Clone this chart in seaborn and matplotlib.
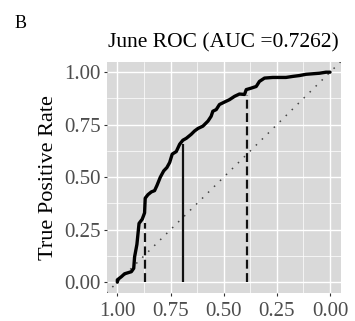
import matplotlib
matplotlib.use("Agg")
import matplotlib.pyplot as plt
import numpy as np
import pandas as pd
import seaborn as sns

# ROC curve (specificity on reversed x axis, sensitivity on y)
specificity = [1.0, 1.0, 0.98, 0.966, 0.934, 0.923, 0.919, 0.908, 0.898, 0.883,
               0.872, 0.869, 0.856, 0.84, 0.825, 0.814, 0.798, 0.782, 0.767,
               0.754, 0.742, 0.723, 0.707, 0.692, 0.676, 0.653, 0.637, 0.621,
               0.598, 0.574, 0.559, 0.551, 0.535, 0.52, 0.496, 0.473, 0.449,
               0.426, 0.402, 0.394, 0.371, 0.347, 0.332, 0.308, 0.269, 0.207,
               0.175, 0.144, 0.113, 0.05, 0.019, 0.0]
sensitivity = [0.0, 0.011, 0.027, 0.04, 0.05, 0.066, 0.12, 0.18, 0.28, 0.30,
               0.33, 0.40, 0.417, 0.43, 0.436, 0.46, 0.50, 0.53, 0.546,
               0.57, 0.61, 0.622, 0.657, 0.676, 0.685, 0.704, 0.72, 0.732,
               0.743, 0.767, 0.79, 0.814, 0.822, 0.846, 0.858, 0.869, 0.885,
               0.896, 0.894, 0.917, 0.924, 0.932, 0.956, 0.972, 0.975, 0.975,
               0.98, 0.984, 0.99, 0.995, 1.0, 1.0]

cut_spec = [0.872, 0.689, 0.391]
cut_sens = [0.28, 0.66, 0.893]
cut_style = ["dashed", "solid", "dashed"]

title = "June ROC (AUC =0.7262)"
panel_label = "B"
y_label = "True Positive Rate"
tick_values = [1.00, 0.75, 0.50, 0.25, 0.00]
tick_labels = ["1.00", "0.75", "0.50", "0.25", "0.00"]

sns.set_theme(style="darkgrid")
plt.rcParams['font.family'] = ['Liberation Serif', 'DejaVu Serif']

fig = plt.figure(figsize=(3.55, 3.21), dpi=100)
ax = fig.add_axes([0.3006, 0.0882, 0.659, 0.7196])
ax.set_facecolor('#D9D9D9')

df = pd.DataFrame({"spec": specificity, "sens": sensitivity})

ax.set_xlim(1.05, -0.05)
ax.set_ylim(-0.05, 1.05)
ax.set_xticks(tick_values)
ax.set_xticklabels(tick_labels)
ax.set_yticks(tick_values[::-1])
ax.set_yticklabels(tick_labels[::-1])
minor = [0.875, 0.625, 0.375, 0.125]
ax.set_xticks(minor, minor=True)
ax.set_yticks(minor, minor=True)
ax.grid(which='major', color='white', linewidth=1.0)
ax.grid(which='minor', color='white', linewidth=0.5)
ax.set_axisbelow(True)
for s in ax.spines.values():
    s.set_visible(False)
ax.tick_params(which='major', length=2.5, width=0.8, color='#333333',
               labelcolor='#4D4D4D', labelsize=15, pad=2,
               bottom=True, left=True)
ax.tick_params(axis='x', which='major', pad=4)
ax.tick_params(which='minor', length=0)

ax.axline((1, 0), (0, 1), color='#444444', linewidth=1.1,
          linestyle=(0, (1, 4.5)))

for s, t, ls in zip(cut_spec, cut_sens, cut_style):
    ax.vlines(s, 0, t, colors='#111111', linewidth=1.6,
              linestyles=ls if ls == 'solid' else (0, (4, 2)))

sns.lineplot(data=df, x="spec", y="sens", sort=False, estimator=None,
             color='black', linewidth=2.4, ax=ax)

ax.set_xlabel("")
ax.set_ylabel(y_label, fontsize=16, color='black', labelpad=4)
ax.set_title(title, fontsize=15.5, color='black', pad=10)
fig.text(0.042, 0.928, panel_label, fontsize=13, color='black',
         ha='left', va='center')

fig.savefig("out.png", dpi=100)
